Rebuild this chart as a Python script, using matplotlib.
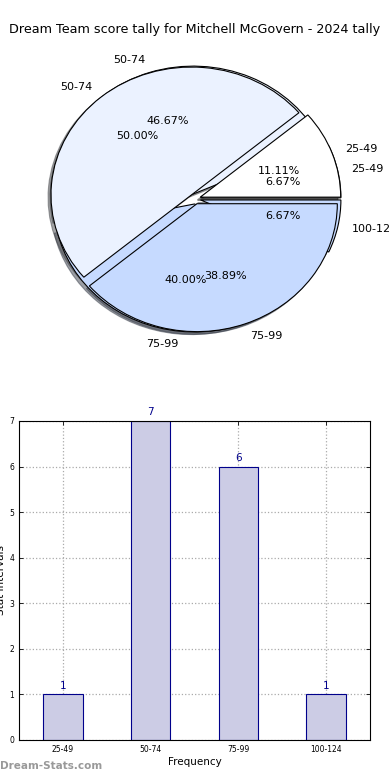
import numpy as np
import matplotlib
matplotlib.use('Agg')
import matplotlib.pyplot as plt

title = 'Dream Team score tally for Mitchell McGovern - 2024 tally'

# current tally (also used for the bars)
labels = ['25-49', '50-74', '75-99', '100-124']
counts = [1, 7, 6, 1]

# older tally still drawn on the pie
labels_old = ['25-49', '50-74', '75-99']
counts_old = [2, 9, 7]

pie_colors = ['#FFFFFF', '#EBF2FF', '#C6DAFF', '#C6DAFF']

fig = plt.figure(figsize=(3.9, 7.8), dpi=100)
fig.text(0.5, 0.962, title, ha='center', va='center', fontsize=9.2)

# pie (not equal aspect, so it ends up a bit oval)
ax1 = fig.add_axes([0.05, 0.54, 0.90, 0.41])
shad = {'ox': -0.015, 'oy': -0.015}
ax1.pie(counts, labels=labels, colors=pie_colors, explode=[0.04] * 4,
        autopct='%1.2f%%', shadow=shad, startangle=0,
        textprops={'fontsize': 8}, wedgeprops={'linewidth': 0.8, 'edgecolor': 'k'})
ax1.pie(counts_old, labels=labels_old, colors=pie_colors[:3], explode=[0.04] * 3,
        autopct='%1.2f%%', shadow=shad, startangle=0,
        textprops={'fontsize': 8}, wedgeprops={'linewidth': 0.8, 'edgecolor': 'k'})
ax1.set_aspect('auto')
ax1.set_xlim(-1.25, 1.25)
ax1.set_ylim(-1.25, 1.25)
ax1.axis('off')

# bars
ax2 = fig.add_axes([0.0487, 0.0513, 0.9, 0.409])
x = np.arange(len(labels))
bars = ax2.bar(x, counts, width=0.45, color='#CCCCE5', edgecolor='#00008B', linewidth=0.8, zorder=2)
for b, v in zip(bars, counts):
    ax2.text(b.get_x() + b.get_width() / 2, v + 0.08, str(v), ha='center', va='bottom',
             color='#00008B', fontsize=7.5)
ax2.set_xlim(-0.5, 3.5)
ax2.set_ylim(0, 7)
ax2.set_xticks(x)
ax2.set_xticklabels(labels, fontsize=5.5)
ax2.set_yticks(range(8))
ax2.tick_params(axis='y', labelsize=5.5)
ax2.tick_params(direction='in', top=True, right=True, length=3, width=0.6)
ax2.grid(True, linestyle=':', color='#AAAAAA', linewidth=0.9, zorder=0)
ax2.set_axisbelow(True)
ax2.set_xlabel('Frequency', fontsize=7.5, labelpad=2)
ax2.set_ylabel('Stat Intervals', fontsize=7.5, labelpad=2)

fig.text(0.0, 0.012, 'Dream-Stats.com', fontsize=7.5, color='#999999', fontweight='bold',
         ha='left', va='bottom')

fig.savefig('out.png', dpi=100)
